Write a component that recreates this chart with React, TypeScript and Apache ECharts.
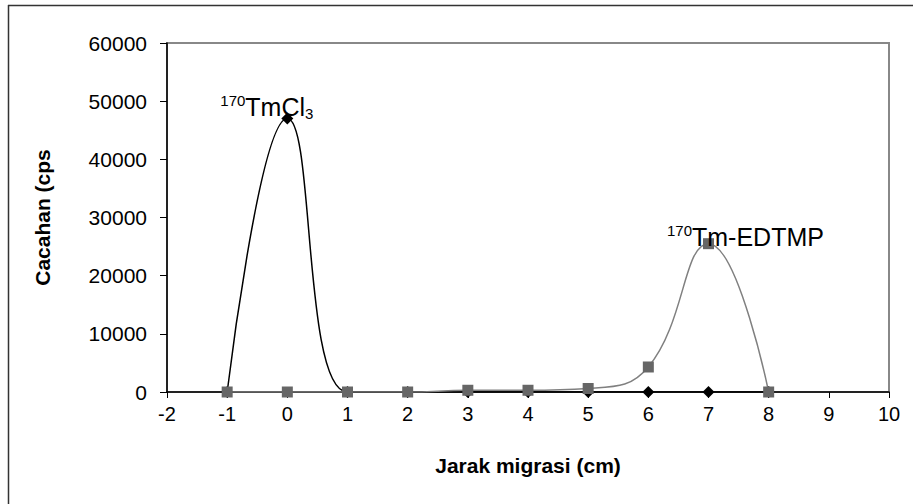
import React, { useEffect, useRef } from "react";
import * as echarts from "echarts";

const xPositions = [-1, 0, 1, 2, 3, 4, 5, 6, 7, 8];
const tmcl3Values = [0, 47000, 0, 0, 0, 0, 0, 0, 0, 0];
const edtmpValues = [0, 0, 0, 0, 300, 300, 600, 4300, 25500, 0];
const xTitle = "Jarak migrasi (cm)";
const yTitle = "Cacahan (cps";

const FONT = "'Liberation Sans', Arial, sans-serif";

export default function App() {
  const ref = useRef<HTMLDivElement>(null);
  useEffect(() => {
    const chart = echarts.init(ref.current!, null, { renderer: "svg" });
    const rich = {
      sup: { fontSize: 15, fontFamily: FONT, color: "#000", verticalAlign: "top", lineHeight: 28 },
      m: { fontSize: 25, fontFamily: FONT, color: "#000", lineHeight: 28 },
      sub: { fontSize: 15, fontFamily: FONT, color: "#000", verticalAlign: "bottom", lineHeight: 22 },
    };
    const blackData = xPositions.map((x, i) => {
      const item: any = { value: [x, tmcl3Values[i]] };
      if (tmcl3Values[i] === Math.max(...tmcl3Values)) {
        item.label = {
          show: true,
          position: [-61, -20],
          align: "left",
          verticalAlign: "top",
          formatter: "{sup|170}{m|TmCl}{sub|3}",
          rich,
        };
      }
      return item;
    });
    const grayData = xPositions.map((x, i) => {
      const item: any = { value: [x, edtmpValues[i]] };
      if (edtmpValues[i] === Math.max(...edtmpValues)) {
        item.label = {
          show: true,
          position: [-36, -15],
          align: "left",
          verticalAlign: "top",
          formatter: "{sup|170}{m|Tm-EDTMP}",
          rich,
        };
      }
      return item;
    });
    chart.setOption({
      animation: false,
      backgroundColor: "#fff",
      grid: {
        left: 167,
        top: 43,
        right: 24,
        bottom: 112,
        show: true,
        borderColor: "#888",
        borderWidth: 2,
      },
      xAxis: {
        type: "value",
        min: -2,
        max: 10,
        interval: 1,
        name: xTitle,
        nameLocation: "middle",
        nameGap: 63,
        nameTextStyle: { fontFamily: FONT, fontWeight: "bold", fontSize: 21, color: "#000" },
        axisLine: { onZero: false, lineStyle: { color: "#000", width: 1.5 } },
        axisTick: { show: true, inside: false, length: 6, lineStyle: { color: "#000" } },
        axisLabel: { fontFamily: FONT, fontSize: 20, color: "#000", margin: 12 },
        splitLine: { show: false },
      },
      yAxis: {
        type: "value",
        min: 0,
        max: 60000,
        interval: 10000,
        name: yTitle,
        nameLocation: "middle",
        nameGap: 114,
        nameTextStyle: { fontFamily: FONT, fontWeight: "bold", fontSize: 21, color: "#000" },
        axisLine: { show: true, onZero: false, lineStyle: { color: "#000", width: 1.5 } },
        axisTick: { show: true, inside: false, length: 7, lineStyle: { color: "#000" } },
        axisLabel: {
          fontFamily: FONT,
          fontSize: 21,
          color: "#000",
          margin: 20,
          formatter: (v: number) => String(v),
        },
        splitLine: { show: false },
      },
      series: [
        {
          name: "170TmCl3",
          type: "line",
          data: blackData,
          smooth: 0.45,
          symbol: "diamond",
          symbolSize: 12,
          itemStyle: { color: "#000" },
          lineStyle: { color: "#000", width: 1.5 },
          z: 2,
        },
        {
          name: "170Tm-EDTMP",
          type: "line",
          data: grayData,
          smooth: 0.45,
          symbol: "rect",
          symbolSize: 11,
          itemStyle: { color: "#666" },
          lineStyle: { color: "#808080", width: 1.5 },
          z: 3,
        },
      ],
      graphic: [
        { type: "line", shape: { x1: 8, y1: 5.5, x2: 913, y2: 5.5 }, style: { stroke: "#333", lineWidth: 1.5 } },
        { type: "line", shape: { x1: 8.5, y1: 5, x2: 8.5, y2: 504 }, style: { stroke: "#333", lineWidth: 1.5 } },
      ],
    });
    return () => chart.dispose();
  }, []);
  return <div ref={ref} style={{ width: 913, height: 504, position: "absolute", left: 0, top: 0 }} />;
}
